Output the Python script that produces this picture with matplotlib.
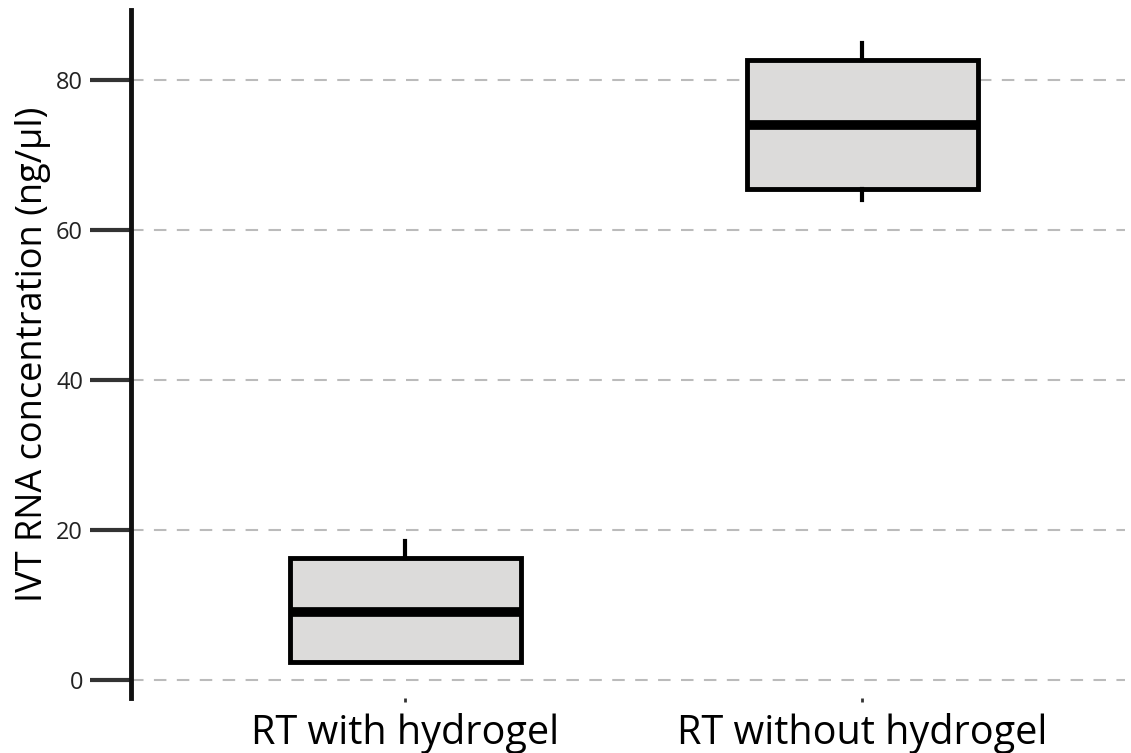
import matplotlib.pyplot as plt

categories = ["RT with hydrogel", "RT without hydrogel"]
whisker_low = [2.4, 64.0]
q1 = [2.4, 65.5]
medians = [9.0, 74.0]
q3 = [16.3, 82.7]
whisker_high = [18.5, 84.9]

plt.rcParams['font.family'] = ['Open Sans', 'DejaVu Sans']

fig = plt.figure(figsize=(11.31, 7.53), dpi=100)
ax = fig.add_axes([131 / 1131, 55 / 753, 994 / 1131, 688 / 753])

stats = []
for i in range(len(categories)):
    stats.append(dict(label=categories[i], whislo=whisker_low[i], q1=q1[i],
                      med=medians[i], q3=q3[i], whishi=whisker_high[i], fliers=[]))

ax.bxp(stats, positions=[0, 1], widths=0.505, patch_artist=True, showcaps=False,
       boxprops=dict(facecolor="#dcdbda", edgecolor="black", linewidth=3.5),
       medianprops=dict(color="black", linewidth=7, solid_capstyle="butt"),
       whiskerprops=dict(color="black", linewidth=3))

ax.set_xlim(-0.6, 1.575)
ax.set_ylim(-2.4, 89.3)
ax.set_yticks([0, 20, 40, 60, 80])
ax.yaxis.grid(True, linestyle=(0, (6, 5)), color="#bbbbbb", linewidth=1.5)
ax.set_axisbelow(True)

for s in ["top", "right", "bottom"]:
    ax.spines[s].set_visible(False)
ax.spines["left"].set_linewidth(3.5)
ax.spines["left"].set_color("#111111")

ax.tick_params(axis="y", length=29.5, width=3, color="#333333", labelsize=17,
               labelcolor="#222222", pad=5)
ax.tick_params(axis="x", length=3, width=2, color="#333333", labelsize=28.5, pad=8)
ax.set_ylabel("IVT RNA concentration (ng/µl)", fontsize=26, labelpad=4)

fig.savefig("out.png", dpi=100)
